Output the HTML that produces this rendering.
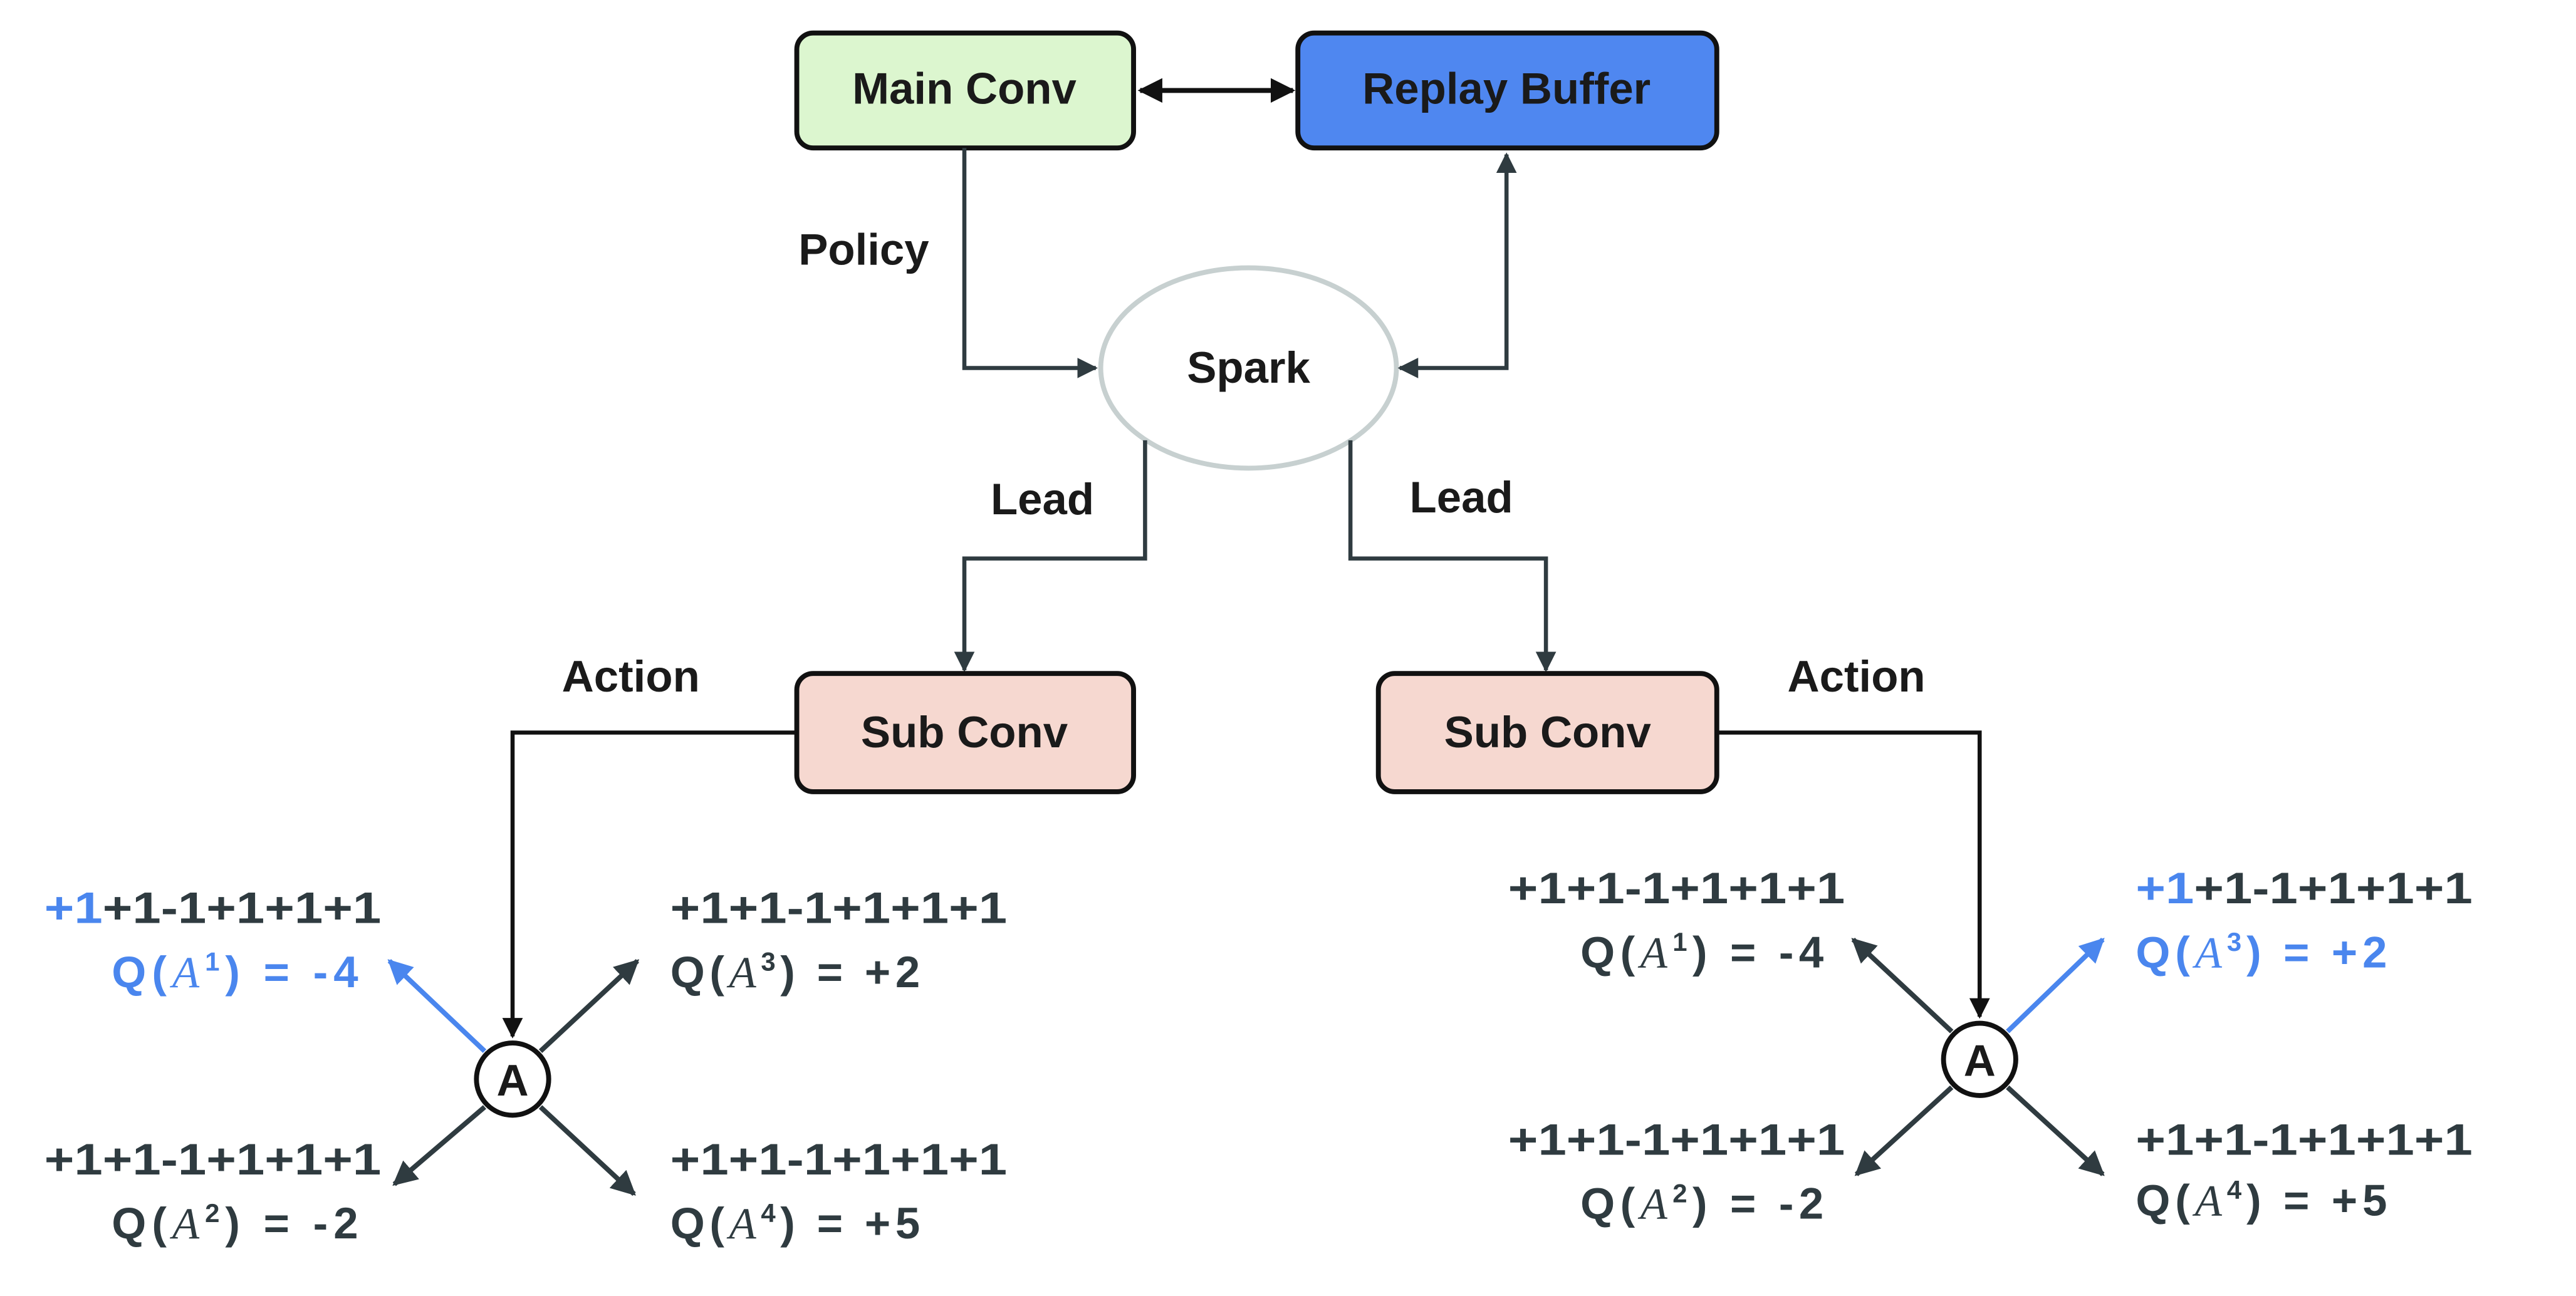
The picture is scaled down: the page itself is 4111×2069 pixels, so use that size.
<!DOCTYPE html>
<html><head><meta charset="utf-8"><style>
html,body{margin:0;padding:0;background:#fff;}
svg{display:block;}
text{font-family:"Liberation Sans",sans-serif;}
.lb{font-size:27px;font-weight:bold;fill:#1a1a1a;}
.nm{font-size:27px;font-weight:bold;fill:#2f3b40;}
.bl{fill:#4a86ee;}
.it{font-family:"Liberation Serif",serif;font-style:italic;font-weight:normal;}
</style></head><body>
<svg width="4111" height="2069" viewBox="0 0 1568 789" xmlns="http://www.w3.org/2000/svg">
<defs>
<marker id="ah" viewBox="0 0 10 10" refX="9" refY="5" markerWidth="5" markerHeight="5" orient="auto-start-reverse" markerUnits="strokeWidth"><path d="M0,0 L10,5 L0,10 z" fill="#2f3b40"/></marker>
<marker id="ak" viewBox="0 0 10 10" refX="9" refY="5" markerWidth="5" markerHeight="5" orient="auto-start-reverse" markerUnits="strokeWidth"><path d="M0,0 L10,5 L0,10 z" fill="#111"/></marker>
<marker id="ab" viewBox="0 0 10 10" refX="9" refY="5" markerWidth="5" markerHeight="5" orient="auto-start-reverse" markerUnits="strokeWidth"><path d="M0,0 L10,5 L0,10 z" fill="#4a86ee"/></marker>
</defs>
<rect x="485" y="20" width="205" height="70" rx="10" fill="#dcf6cf" stroke="#111" stroke-width="3"/>
<text class="lb" x="587" y="63" text-anchor="middle">Main Conv</text>
<rect x="790" y="20" width="255" height="70" rx="10" fill="#4f87f0" stroke="#111" stroke-width="3"/>
<text class="lb" x="917" y="63" text-anchor="middle">Replay Buffer</text>
<line x1="694" y1="55" x2="787" y2="55" stroke="#111" stroke-width="3" marker-start="url(#ak)" marker-end="url(#ak)"/>
<ellipse cx="760" cy="224" rx="90" ry="61" fill="#fff" stroke="#c7d0d0" stroke-width="3"/>
<text class="lb" x="760" y="233" text-anchor="middle">Spark</text>
<polyline points="587,90 587,224 667,224" fill="none" stroke="#2f3b40" stroke-width="2.5" marker-end="url(#ah)"/>
<text class="lb" x="486" y="161">Policy</text>
<polyline points="852,224 917,224 917,94" fill="none" stroke="#2f3b40" stroke-width="2.5" marker-start="url(#ah)" marker-end="url(#ah)"/>
<polyline points="697,268 697,340 587,340 587,408" fill="none" stroke="#2f3b40" stroke-width="2.5" marker-end="url(#ah)"/>
<polyline points="822,268 822,340 941,340 941,408" fill="none" stroke="#2f3b40" stroke-width="2.5" marker-end="url(#ah)"/>
<text class="lb" x="603" y="313">Lead</text>
<text class="lb" x="858" y="312">Lead</text>
<rect x="485" y="410" width="205" height="72" rx="10" fill="#f6d8d0" stroke="#111" stroke-width="3"/>
<text class="lb" x="587" y="455" text-anchor="middle">Sub Conv</text>
<rect x="839" y="410" width="206" height="72" rx="10" fill="#f6d8d0" stroke="#111" stroke-width="3"/>
<text class="lb" x="942" y="455" text-anchor="middle">Sub Conv</text>
<text class="lb" x="342" y="421">Action</text>
<text class="lb" x="1088" y="421">Action</text>
<polyline points="485,446 312,446 312,631" fill="none" stroke="#111" stroke-width="2.5" marker-end="url(#ak)"/>
<polyline points="1045,446 1205,446 1205,619" fill="none" stroke="#111" stroke-width="2.5" marker-end="url(#ak)"/>
<line x1="295" y1="640" x2="237" y2="585" stroke="#4a86ee" stroke-width="3" marker-end="url(#ab)"/>
<line x1="329" y1="640" x2="388" y2="585" stroke="#2f3b40" stroke-width="3" marker-end="url(#ah)"/>
<line x1="295" y1="674" x2="240" y2="721" stroke="#2f3b40" stroke-width="3" marker-end="url(#ah)"/>
<line x1="329" y1="674" x2="386" y2="727" stroke="#2f3b40" stroke-width="3" marker-end="url(#ah)"/>
<circle cx="312" cy="657" r="22" fill="#fff" stroke="#111" stroke-width="3"/>
<text class="lb" x="312" y="667" text-anchor="middle">A</text>
<text class="nm" x="27" y="562" textLength="205" lengthAdjust="spacingAndGlyphs"><tspan class="bl">+1</tspan>+1-1+1+1+1</text>
<text class="nm bl" x="68" y="601" textLength="150" lengthAdjust="spacing"><tspan>Q(</tspan><tspan class="it">A</tspan><tspan font-size="16" dy="-10">1</tspan><tspan dy="10">) = -4</tspan></text>
<text class="nm" x="408" y="562" textLength="205" lengthAdjust="spacingAndGlyphs">+1+1-1+1+1+1</text>
<text class="nm" x="408" y="601" textLength="152" lengthAdjust="spacing"><tspan>Q(</tspan><tspan class="it">A</tspan><tspan font-size="16" dy="-10">3</tspan><tspan dy="10">) = +2</tspan></text>
<text class="nm" x="27" y="715" textLength="205" lengthAdjust="spacingAndGlyphs">+1+1-1+1+1+1</text>
<text class="nm" x="68" y="754" textLength="150" lengthAdjust="spacing"><tspan>Q(</tspan><tspan class="it">A</tspan><tspan font-size="16" dy="-10">2</tspan><tspan dy="10">) = -2</tspan></text>
<text class="nm" x="408" y="715" textLength="205" lengthAdjust="spacingAndGlyphs">+1+1-1+1+1+1</text>
<text class="nm" x="408" y="754" textLength="152" lengthAdjust="spacing"><tspan>Q(</tspan><tspan class="it">A</tspan><tspan font-size="16" dy="-10">4</tspan><tspan dy="10">) = +5</tspan></text>
<line x1="1188" y1="628" x2="1128" y2="572" stroke="#2f3b40" stroke-width="3" marker-end="url(#ah)"/>
<line x1="1222" y1="628" x2="1280" y2="572" stroke="#4a86ee" stroke-width="3" marker-end="url(#ab)"/>
<line x1="1188" y1="662" x2="1130" y2="715" stroke="#2f3b40" stroke-width="3" marker-end="url(#ah)"/>
<line x1="1222" y1="662" x2="1280" y2="715" stroke="#2f3b40" stroke-width="3" marker-end="url(#ah)"/>
<circle cx="1205" cy="645" r="22" fill="#fff" stroke="#111" stroke-width="3"/>
<text class="lb" x="1205" y="655" text-anchor="middle">A</text>
<text class="nm" x="918" y="550" textLength="205" lengthAdjust="spacingAndGlyphs">+1+1-1+1+1+1</text>
<text class="nm" x="962" y="589" textLength="148" lengthAdjust="spacing"><tspan>Q(</tspan><tspan class="it">A</tspan><tspan font-size="16" dy="-10">1</tspan><tspan dy="10">) = -4</tspan></text>
<text class="nm" x="1300" y="550" textLength="205" lengthAdjust="spacingAndGlyphs"><tspan class="bl">+1</tspan>+1-1+1+1+1</text>
<text class="nm bl" x="1300" y="589" textLength="153" lengthAdjust="spacing"><tspan>Q(</tspan><tspan class="it">A</tspan><tspan font-size="16" dy="-10">3</tspan><tspan dy="10">) = +2</tspan></text>
<text class="nm" x="918" y="703" textLength="205" lengthAdjust="spacingAndGlyphs">+1+1-1+1+1+1</text>
<text class="nm" x="962" y="742" textLength="148" lengthAdjust="spacing"><tspan>Q(</tspan><tspan class="it">A</tspan><tspan font-size="16" dy="-10">2</tspan><tspan dy="10">) = -2</tspan></text>
<text class="nm" x="1300" y="703" textLength="205" lengthAdjust="spacingAndGlyphs">+1+1-1+1+1+1</text>
<text class="nm" x="1300" y="740" textLength="153" lengthAdjust="spacing"><tspan>Q(</tspan><tspan class="it">A</tspan><tspan font-size="16" dy="-10">4</tspan><tspan dy="10">) = +5</tspan></text>
</svg>
</body></html>
